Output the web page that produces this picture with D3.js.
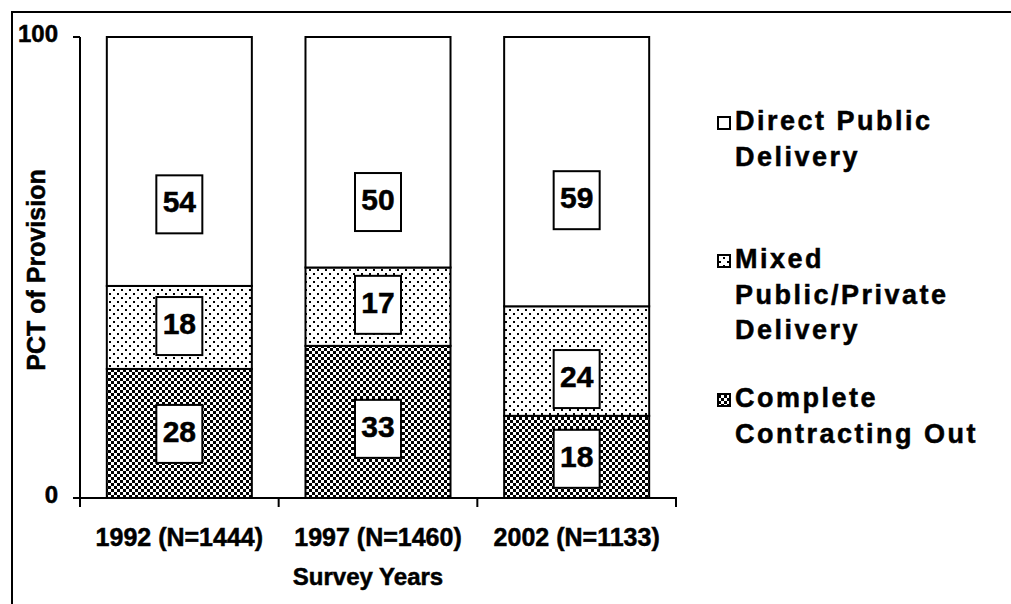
<!DOCTYPE html>
<html>
<head>
<meta charset="utf-8">
<script src="https://cdn.jsdelivr.net/npm/d3@7"></script>
<style>
  html, body { margin: 0; padding: 0; background: #fff; }
  svg { display: block; font-family: "Liberation Sans", Arial, sans-serif; font-weight: bold; }
  svg text { stroke: #000; stroke-width: 0.5px; }
</style>
</head>
<body>
<svg id="chart"></svg>
<script>
// data
const years = ["1992 (N=1444)", "1997 (N=1460)", "2002 (N=1133)"];
const complete = [28, 33, 18];
const mixed = [18, 17, 24];
const direct = [54, 50, 59];
// where the boxed labels sit, in percent of the bar
const completeLabelAt = [13.9, 15.0, 8.5];
const mixedLabelAt = [37.3, 41.9, 25.8];
const directLabelAt = [63.7, 64.2, 64.6];
const yTicks = [0, 100];
const legendLines = [
  ["Direct Public", "Delivery"],
  ["Mixed", "Public/Private", "Delivery"],
  ["Complete", "Contracting Out"]
];

const W = 1011, H = 604;
let svg = d3.select("#chart").attr("width", W).attr("height", H);

// fill patterns
let defs = svg.append("defs");
let dots = defs.append("pattern").attr("id", "dots")
  .attr("patternUnits", "userSpaceOnUse").attr("width", 8).attr("height", 8);
dots.append("rect").attr("width", 8).attr("height", 8).attr("fill", "#fff");
dots.append("rect").attr("x", 1).attr("y", 1).attr("width", 2).attr("height", 2).attr("fill", "#000");
dots.append("rect").attr("x", 5).attr("y", 5).attr("width", 2).attr("height", 2).attr("fill", "#000");

let checks = defs.append("pattern").attr("id", "checks")
  .attr("patternUnits", "userSpaceOnUse").attr("width", 6).attr("height", 6);
checks.append("rect").attr("width", 6).attr("height", 6).attr("fill", "#fff");
checks.append("rect").attr("width", 3).attr("height", 3).attr("fill", "#000");
checks.append("rect").attr("x", 3).attr("y", 3).attr("width", 3).attr("height", 3).attr("fill", "#000");

// outer frame (runs off the right and bottom)
svg.append("rect").attr("x", 12).attr("y", 12).attr("width", W + 20).attr("height", H + 20)
  .attr("fill", "none").attr("stroke", "#000").attr("stroke-width", 2);

const rows = years.map((y, i) => ({
  year: y, complete: complete[i], mixed: mixed[i], direct: direct[i],
  labels: { complete: completeLabelAt[i], mixed: mixedLabelAt[i], direct: directLabelAt[i] }
}));
const keys = ["complete", "mixed", "direct"];
const fills = { complete: "url(#checks)", mixed: "url(#dots)", direct: "#fff" };

let x = d3.scaleBand().domain(years).range([80, 676]);
let y = d3.scaleLinear().domain([0, 100]).range([498, 37]);
const barW = x.bandwidth() * 0.73;

let stacked = d3.stack().keys(keys).offset(d3.stackOffsetExpand)(rows);

// bars
let layers = svg.selectAll("g.layer").data(stacked).enter().append("g")
  .attr("class", "layer").attr("fill", d => fills[d.key]);
layers.selectAll("rect").data(d => d).enter().append("rect")
  .attr("x", d => x(d.data.year) + (x.bandwidth() - barW) / 2)
  .attr("y", d => y(d[1] * 100))
  .attr("width", barW)
  .attr("height", d => y(d[0] * 100) - y(d[1] * 100))
  .attr("stroke", "#000").attr("stroke-width", 2);

// boxed value labels
keys.forEach(k => {
  let g = svg.selectAll("g.lab-" + k).data(rows).enter().append("g").attr("class", "lab-" + k)
    .attr("transform", d => `translate(${x(d.year) + x.bandwidth() / 2},${y(d.labels[k])})`);
  g.append("rect").attr("x", -23).attr("y", -29).attr("width", 46).attr("height", 58)
    .attr("fill", "#fff").attr("stroke", "#000").attr("stroke-width", 2);
  g.append("text").attr("text-anchor", "middle").attr("y", 8)
    .attr("font-size", 30).text(d => d[k]);
});

// y axis
svg.append("line").attr("x1", 80).attr("x2", 80).attr("y1", y(100)).attr("y2", y(0) + 8)
  .attr("stroke", "#000").attr("stroke-width", 2);
svg.selectAll("line.ytick").data(yTicks).enter().append("line").attr("class", "ytick")
  .attr("x1", 73).attr("x2", 80).attr("y1", d => y(d)).attr("y2", d => y(d))
  .attr("stroke", "#000").attr("stroke-width", 2);
svg.selectAll("text.ylab").data(yTicks).enter().append("text").attr("class", "ylab")
  .attr("x", 58).attr("y", d => y(d)).attr("dy", "0.2em")
  .attr("text-anchor", "end").attr("font-size", 24).text(d => d);

// x axis
svg.append("line").attr("x1", 80).attr("x2", 677).attr("y1", y(0)).attr("y2", y(0))
  .attr("stroke", "#000").attr("stroke-width", 2);
let bounds = years.map(d => x(d)).concat([x.range()[1]]);
svg.selectAll("line.xtick").data(bounds).enter().append("line").attr("class", "xtick")
  .attr("x1", d => d).attr("x2", d => d).attr("y1", y(0)).attr("y2", y(0) + 9)
  .attr("stroke", "#000").attr("stroke-width", 2);
svg.selectAll("text.xlab").data(years).enter().append("text").attr("class", "xlab")
  .attr("x", d => x(d) + x.bandwidth() / 2).attr("y", 546)
  .attr("text-anchor", "middle").attr("font-size", 25).text(d => d);

// axis titles
svg.append("text").attr("x", 368).attr("y", 585).attr("text-anchor", "middle")
  .attr("font-size", 24).text("Survey Years");
svg.append("text").attr("transform", "translate(45,270) rotate(-90)")
  .attr("text-anchor", "middle").attr("font-size", 25).text("PCT of Provision");

// legend
const legendTop = [130, 268, 407];
const legendFill = ["#fff", "url(#dots)", "url(#checks)"];
legendLines.forEach((lines, i) => {
  let g = svg.append("g").attr("transform", `translate(718,${legendTop[i]})`);
  g.append("rect").attr("x", 0).attr("y", -13).attr("width", 12).attr("height", 12)
    .attr("fill", legendFill[i]).attr("stroke", "#000").attr("stroke-width", 2);
  g.selectAll("text").data(lines).enter().append("text")
    .attr("x", 17).attr("y", (d, j) => j * 35.5)
    .attr("font-size", 27).attr("letter-spacing", 2.5).text(d => d);
});
</script>
</body>
</html>
